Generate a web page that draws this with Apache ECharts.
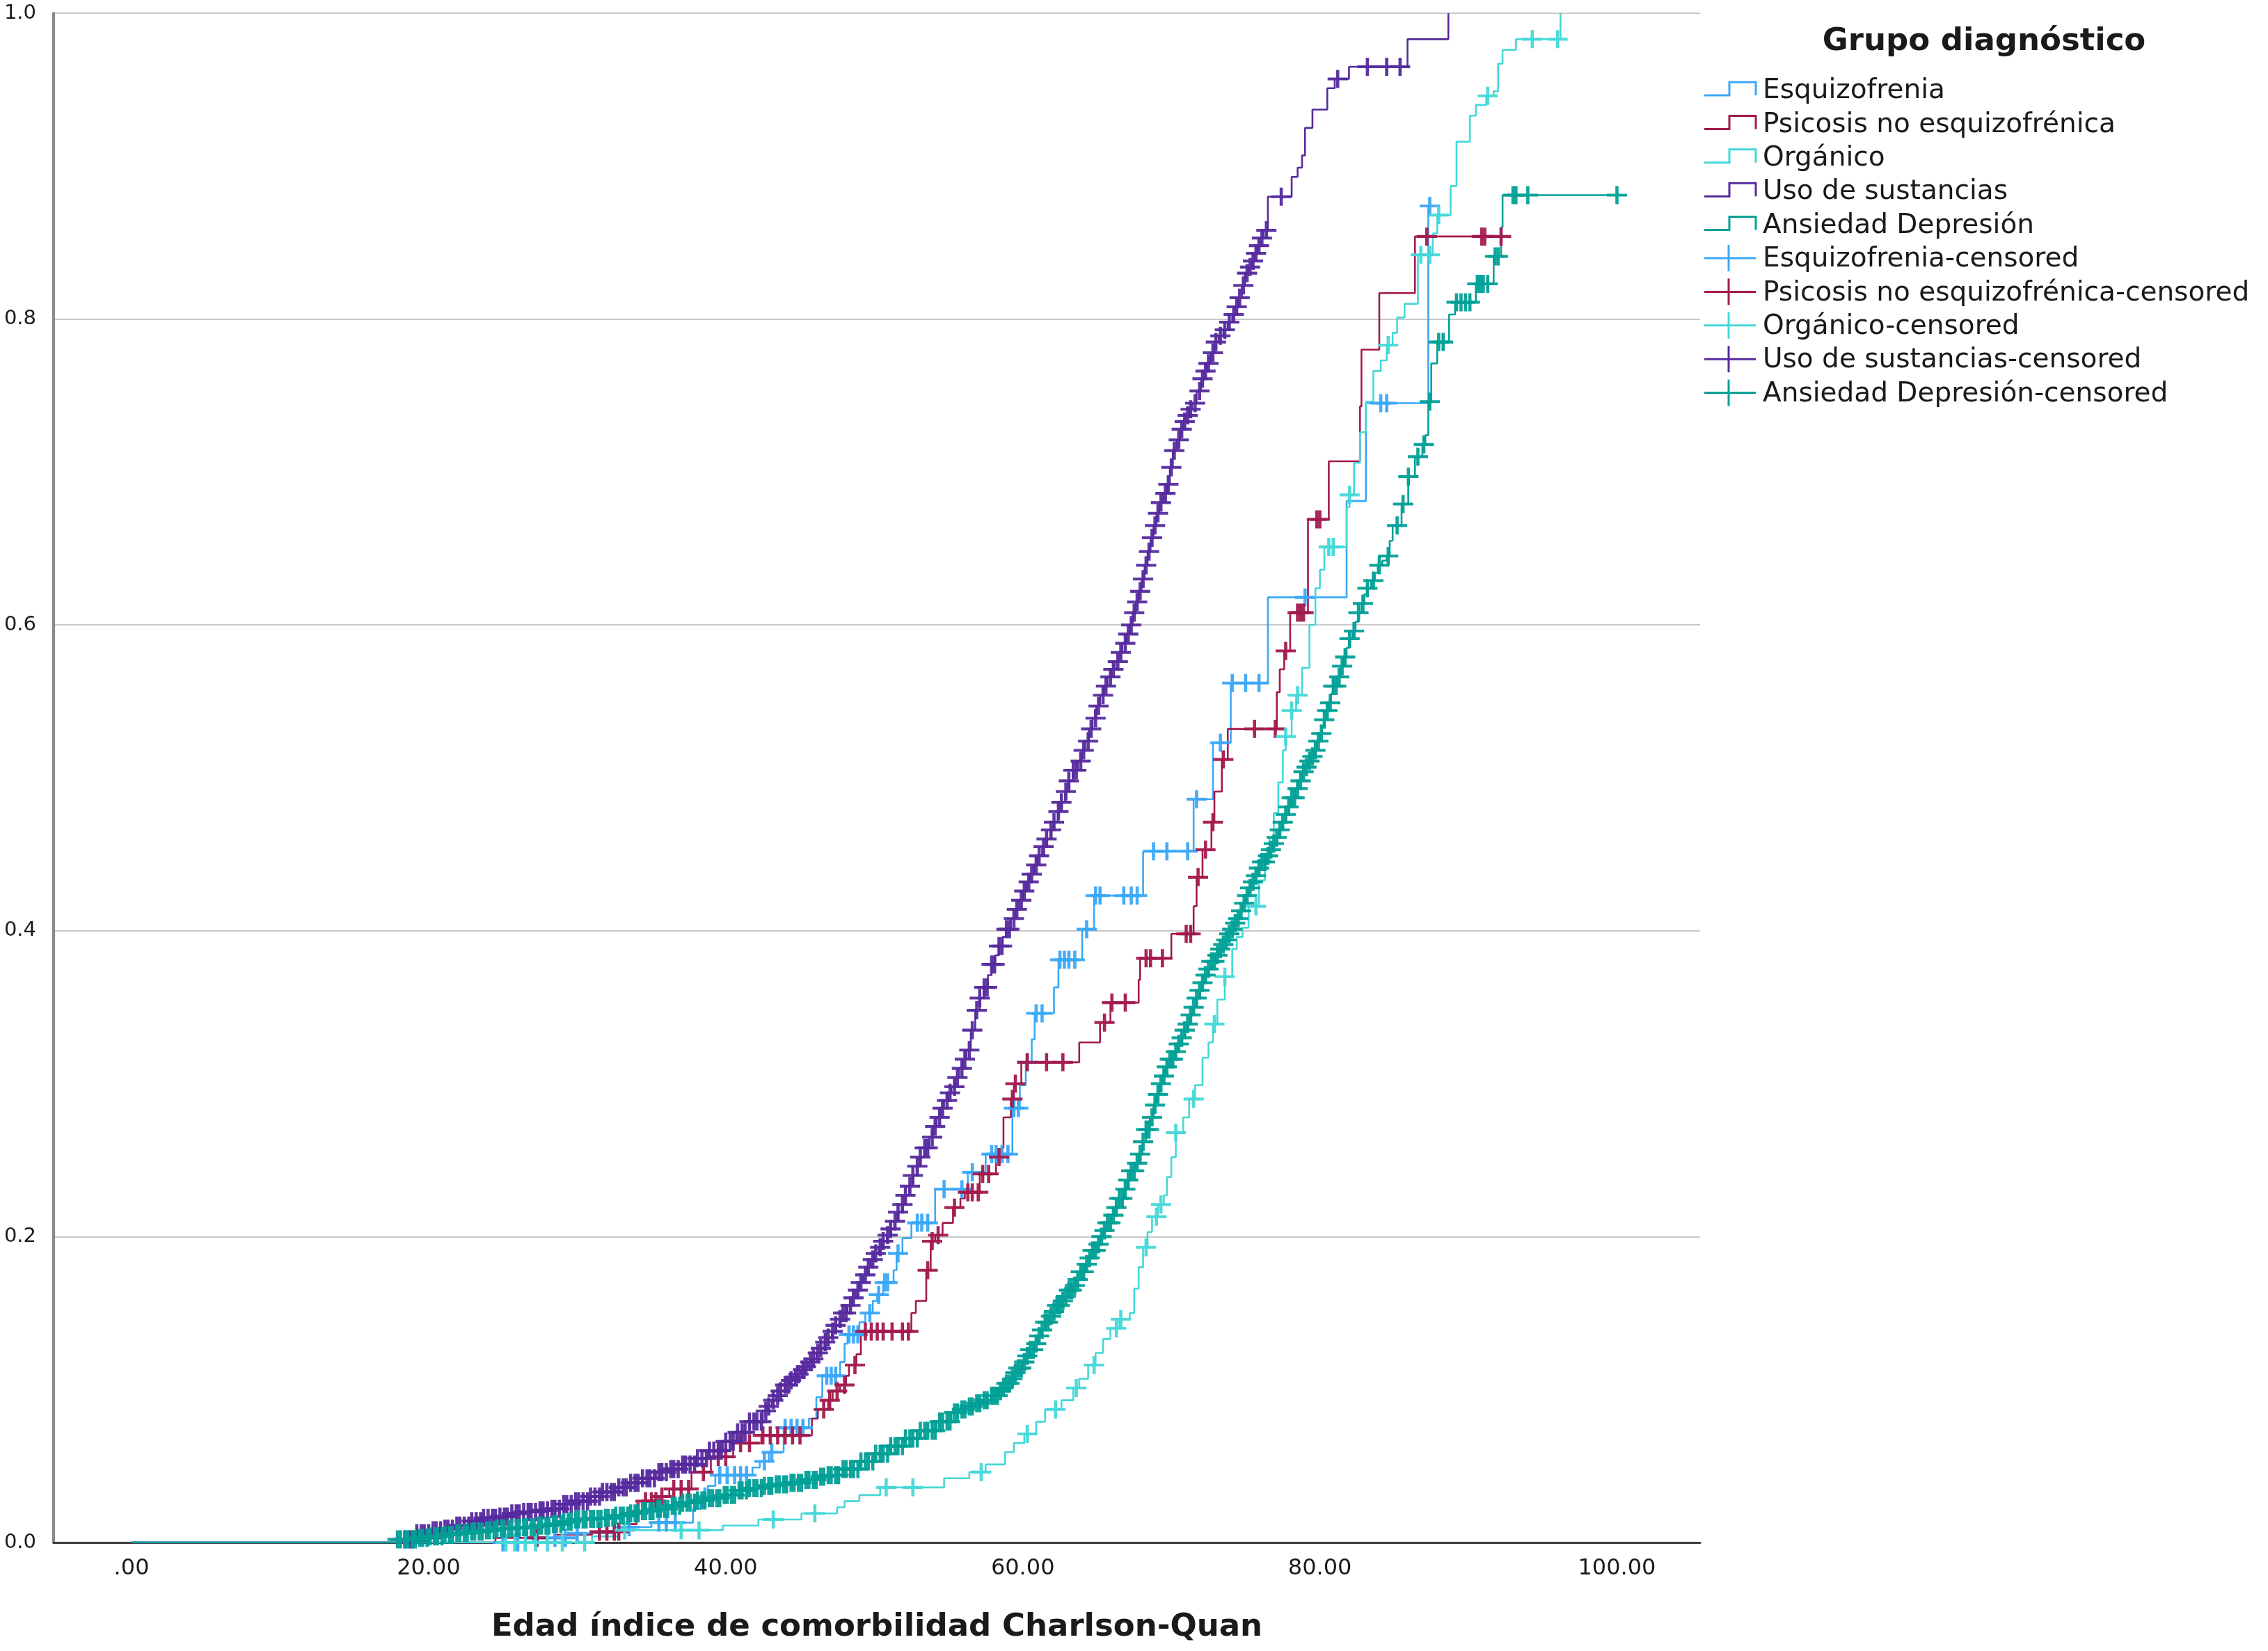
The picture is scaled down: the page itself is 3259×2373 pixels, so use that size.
<!DOCTYPE html>
<html>
<head>
<meta charset="utf-8">
<script src="https://cdn.jsdelivr.net/npm/echarts@6/dist/echarts.min.js"></script>
<style>
html,body{margin:0;padding:0;background:#fff;}
#chart{width:3259px;height:2373px;}
</style>
</head>
<body>
<div id="chart"></div>
<script>
// ---------- DATA ----------
const groupNames = ['Esquizofrenia', 'Psicosis no esquizofrénica', 'Orgánico', 'Uso de sustancias', 'Ansiedad Depresión'];
const censoredNames = ['Esquizofrenia-censored', 'Psicosis no esquizofrénica-censored', 'Orgánico-censored', 'Uso de sustancias-censored', 'Ansiedad Depresión-censored'];
const groupColors = ['#3aa8f8', '#a3194e', '#45d8d8', '#562a9e', '#00a096'];
const legendTitle = 'Grupo diagnóstico';
const xAxisTitle = 'Edad índice de comorbilidad Charlson-Quan';
const xTickValues = [0, 20, 40, 60, 80, 100];

// step points: [age, cumulative value after the step]
const esquizofreniaSteps = [[0,0],[27.0,0.003],[30.0,0.006],[32.5,0.010],[35.0,0.013],[37.8,0.022],[38.3,0.030],[38.8,0.037],[39.3,0.044],[41.8,0.049],[42.3,0.053],[42.9,0.059],[43.9,0.075],[45.6,0.081],[46.1,0.095],[46.5,0.109],[47.7,0.118],[48.0,0.130],[48.2,0.136],[49.0,0.144],[49.4,0.150],[49.9,0.158],[50.2,0.162],[50.6,0.170],[51.3,0.178],[51.5,0.189],[51.9,0.199],[52.5,0.209],[54.1,0.231],[56.3,0.242],[57.5,0.254],[59.3,0.284],[59.8,0.299],[60.2,0.314],[60.6,0.329],[60.8,0.346],[62.1,0.363],[62.4,0.381],[64.0,0.401],[64.8,0.423],[68.1,0.452],[71.5,0.486],[72.8,0.523],[74.0,0.562],[76.5,0.618],[81.8,0.681],[83.1,0.745],[87.3,0.874],[87.4,0.874]];
const esquizofreniaCensored = [25.0,26.0,27.2,28.5,29.2,30.0,33.5,35.5,36.0,36.6,38.6,39.6,40.1,40.6,41.0,41.4,42.6,43.1,44.0,44.4,44.8,45.2,46.8,47.1,47.4,48.3,48.6,48.9,49.7,50.3,50.7,50.9,51.6,52.9,53.2,53.6,54.7,55.9,56.6,57.9,58.2,58.6,59.0,59.4,59.7,60.3,60.9,61.3,62.5,62.8,63.1,63.5,64.3,64.9,65.2,66.8,67.3,67.7,68.8,69.7,71.1,71.7,73.3,74.1,75.0,75.9,79.0,84.1,84.5,87.4];

const psicosisSteps = [[0,0],[24.5,0.003],[28.5,0.005],[31.0,0.007],[33.5,0.012],[34.0,0.020],[34.5,0.027],[35.5,0.030],[36.2,0.035],[37.7,0.046],[39.0,0.056],[40.5,0.065],[42.4,0.070],[45.8,0.081],[46.2,0.087],[46.9,0.093],[47.2,0.099],[47.7,0.103],[48.1,0.109],[48.3,0.116],[48.8,0.123],[49.1,0.138],[52.5,0.150],[52.8,0.158],[53.5,0.178],[53.8,0.197],[54.1,0.201],[54.6,0.209],[55.3,0.219],[55.8,0.225],[56.1,0.229],[57.1,0.241],[58.2,0.252],[58.6,0.258],[58.7,0.278],[59.2,0.290],[59.4,0.300],[59.9,0.314],[63.8,0.327],[65.2,0.340],[65.9,0.353],[67.8,0.368],[67.9,0.382],[70.0,0.398],[71.5,0.416],[71.7,0.435],[72.1,0.453],[72.7,0.471],[72.9,0.491],[73.4,0.512],[73.8,0.532],[77.1,0.556],[77.3,0.571],[77.6,0.583],[78.0,0.608],[79.2,0.669],[80.6,0.707],[82.7,0.743],[82.8,0.780],[84.0,0.817],[86.4,0.854],[92.2,0.854]];
const psicosisCensored = [27.3,31.5,32.0,32.5,32.8,34.1,34.6,35.0,35.3,35.7,36.5,37.0,37.5,38.5,39.5,40.0,41.0,41.6,42.5,43.0,43.5,44.0,44.5,45.0,46.6,47.0,47.5,48.0,48.7,49.4,49.8,50.2,50.6,51.2,51.9,52.3,53.6,53.9,54.3,55.4,56.3,56.6,57.0,57.3,57.7,58.4,59.3,59.5,60.3,61.6,62.7,65.5,66.0,66.9,68.3,68.6,69.4,71.0,71.3,71.8,72.3,72.8,73.5,75.6,77.0,77.7,78.5,78.7,78.9,79.8,80.0,87.2,90.9,91.1,92.2];

const organicoSteps = [[0,0],[31.0,0.004],[32.8,0.008],[39.8,0.011],[42.2,0.015],[45.1,0.019],[47.5,0.023],[48.0,0.027],[49.0,0.031],[50.4,0.036],[54.7,0.042],[56.4,0.046],[57.5,0.051],[58.8,0.059],[59.4,0.065],[60.1,0.071],[60.9,0.079],[61.5,0.087],[62.6,0.093],[63.4,0.101],[63.8,0.107],[64.4,0.116],[64.9,0.124],[65.4,0.133],[65.9,0.140],[66.5,0.146],[67.2,0.150],[67.5,0.166],[67.8,0.180],[68.1,0.193],[68.4,0.203],[68.7,0.213],[69.1,0.221],[69.5,0.227],[69.7,0.239],[70.0,0.252],[70.3,0.268],[70.8,0.278],[71.2,0.290],[71.6,0.299],[72.1,0.317],[72.5,0.327],[72.8,0.339],[73.1,0.355],[73.6,0.370],[74.1,0.388],[74.4,0.396],[74.8,0.402],[75.2,0.416],[75.9,0.433],[76.3,0.445],[76.6,0.461],[76.9,0.477],[77.2,0.497],[77.5,0.518],[77.7,0.527],[78.1,0.544],[78.4,0.554],[78.8,0.572],[79.3,0.600],[79.7,0.624],[80.0,0.636],[80.3,0.651],[81.8,0.677],[82.0,0.685],[82.3,0.706],[82.7,0.726],[83.1,0.746],[83.6,0.766],[84.1,0.773],[84.5,0.783],[84.9,0.791],[85.2,0.801],[85.7,0.810],[86.6,0.842],[87.6,0.856],[87.9,0.868],[88.8,0.887],[89.2,0.916],[90.1,0.933],[90.5,0.940],[91.2,0.946],[91.7,0.949],[92.0,0.967],[92.3,0.976],[93.2,0.983],[96.2,1.0]];
const organicoCensored = [25.2,25.8,26.5,27.2,28.0,29.0,30.5,33.2,37.0,38.2,43.2,46.0,50.8,52.6,57.2,60.3,62.2,63.6,64.8,66.3,66.6,68.3,69.0,69.3,70.3,71.5,72.9,73.6,75.7,77.7,78.1,78.5,80.6,80.9,82.0,84.6,86.8,87.4,88.0,91.3,94.3,96.0];

const sustanciasSteps = [[0,0],[18.2,0.002],[19.2,0.006],[20.1,0.008],[21.0,0.009],[21.9,0.011],[22.8,0.014],[23.7,0.016],[24.6,0.017],[25.5,0.019],[26.4,0.020],[27.3,0.021],[28.2,0.022],[29.0,0.025],[29.9,0.027],[30.8,0.030],[31.7,0.033],[32.6,0.036],[33.5,0.039],[34.4,0.042],[35.3,0.046],[36.2,0.048],[37.1,0.051],[38.0,0.055],[38.9,0.060],[39.8,0.066],[40.7,0.072],[41.6,0.079],[42.5,0.086],[42.8,0.089],[43.1,0.093],[43.4,0.096],[43.7,0.099],[44.0,0.103],[44.3,0.106],[44.55,0.108],[44.8,0.110],[45.05,0.113],[45.3,0.115],[45.55,0.118],[45.8,0.120],[46.1,0.124],[46.4,0.127],[46.65,0.131],[46.9,0.134],[47.15,0.138],[47.4,0.142],[47.65,0.146],[47.9,0.150],[48.2,0.155],[48.5,0.160],[48.75,0.165],[49.0,0.170],[49.25,0.175],[49.5,0.180],[49.75,0.185],[50.0,0.189],[50.3,0.193],[50.6,0.197],[50.85,0.201],[51.1,0.205],[51.35,0.210],[51.6,0.216],[51.85,0.221],[52.1,0.227],[52.35,0.233],[52.6,0.240],[52.85,0.246],[53.1,0.252],[53.4,0.258],[53.7,0.265],[53.95,0.272],[54.2,0.278],[54.45,0.284],[54.7,0.289],[54.95,0.294],[55.2,0.298],[55.45,0.304],[55.7,0.310],[55.95,0.316],[56.2,0.322],[56.5,0.335],[56.8,0.348],[57.1,0.356],[57.4,0.363],[57.65,0.371],[57.9,0.378],[58.15,0.384],[58.4,0.390],[58.65,0.396],[58.9,0.401],[59.2,0.408],[59.5,0.414],[59.75,0.420],[60.0,0.426],[60.25,0.432],[60.5,0.437],[60.75,0.443],[61.0,0.449],[61.3,0.455],[61.6,0.460],[61.85,0.466],[62.1,0.471],[62.35,0.478],[62.6,0.484],[62.85,0.491],[63.1,0.498],[63.4,0.505],[63.7,0.511],[63.95,0.518],[64.2,0.524],[64.45,0.532],[64.7,0.539],[64.95,0.547],[65.2,0.554],[65.45,0.560],[65.7,0.566],[65.95,0.571],[66.2,0.576],[66.45,0.582],[66.7,0.588],[66.95,0.594],[67.2,0.600],[67.4,0.608],[67.6,0.615],[67.8,0.622],[68.0,0.630],[68.2,0.639],[68.4,0.648],[68.6,0.657],[68.8,0.665],[69.0,0.673],[69.2,0.680],[69.45,0.686],[69.7,0.692],[69.9,0.703],[70.1,0.714],[70.35,0.721],[70.6,0.728],[70.8,0.733],[71.0,0.737],[71.2,0.741],[71.4,0.745],[71.7,0.753],[72.0,0.761],[72.2,0.766],[72.4,0.771],[72.65,0.778],[72.9,0.785],[73.2,0.789],[73.5,0.793],[73.8,0.798],[74.1,0.803],[74.3,0.808],[74.5,0.814],[74.75,0.822],[74.95,0.830],[75.2,0.834],[75.4,0.838],[75.6,0.843],[75.8,0.848],[76.0,0.853],[76.2,0.858],[76.5,0.880],[78.1,0.893],[78.5,0.899],[78.8,0.907],[79.0,0.925],[79.5,0.937],[80.5,0.951],[81.0,0.957],[81.96,0.965],[85.9,0.983],[88.65,1.0]];
const sustanciasCensored = [18.4,18.7,18.9,19.2,19.5,19.7,20.0,20.3,20.5,20.8,21.1,21.3,21.6,21.9,22.1,22.4,22.7,22.9,23.2,23.5,23.7,24.0,24.3,24.5,24.8,25.1,25.3,25.6,25.9,26.1,26.4,26.7,26.9,27.2,27.5,27.7,28.0,28.3,28.5,28.8,29.1,29.3,29.6,29.9,30.1,30.4,30.7,30.9,31.2,31.5,31.7,32.0,32.3,32.5,32.8,33.1,33.3,33.6,33.9,34.1,34.4,34.7,34.9,35.2,35.5,35.7,36.0,36.3,36.5,36.8,37.1,37.3,37.6,37.9,38.1,38.4,38.7,38.9,39.2,39.5,39.7,40.0,40.3,40.5,40.8,41.1,41.3,41.6,41.9,42.1,42.4,42.7,42.9,43.2,43.5,43.7,44.0,44.2,44.4,44.7,44.9,45.2,45.4,45.7,45.9,46.2,46.4,46.7,46.9,47.2,47.4,47.7,47.9,48.1,48.4,48.6,48.9,49.1,49.4,49.6,49.9,50.1,50.4,50.6,50.9,51.1,51.4,51.6,51.9,52.1,52.4,52.6,52.9,53.1,53.4,53.6,53.9,54.1,54.4,54.6,54.9,55.1,55.4,55.6,55.9,56.1,56.4,56.6,56.9,57.1,57.4,57.6,57.9,58.1,58.4,58.6,58.9,59.1,59.4,59.6,59.9,60.1,60.4,60.6,60.9,61.1,61.4,61.6,61.9,62.1,62.4,62.6,62.9,63.1,63.4,63.6,63.9,64.1,64.4,64.6,64.9,65.1,65.4,65.6,65.9,66.1,66.4,66.6,66.9,67.1,67.3,67.5,67.7,67.9,68.1,68.3,68.5,68.7,68.9,69.1,69.3,69.6,69.8,70.0,70.2,70.5,70.7,70.9,71.1,71.3,71.6,71.9,72.1,72.3,72.5,72.8,73.0,73.3,73.6,73.9,74.2,74.4,74.6,74.85,75.1,75.3,75.5,75.7,75.9,76.1,76.4,77.4,81.2,83.2,84.5,85.4];

const ansiedadSteps = [[0,0],[17.8,0.002],[19.2,0.003],[20.1,0.004],[21.0,0.005],[21.9,0.006],[22.8,0.007],[23.7,0.008],[24.6,0.009],[25.5,0.0095],[26.4,0.010],[27.3,0.011],[28.2,0.012],[29.0,0.0135],[29.9,0.015],[30.8,0.0155],[31.7,0.016],[32.6,0.0175],[33.5,0.019],[34.4,0.0205],[35.3,0.022],[36.2,0.024],[37.1,0.026],[38.0,0.0275],[38.9,0.029],[39.8,0.031],[40.7,0.034],[41.6,0.0355],[42.5,0.037],[43.4,0.038],[44.3,0.039],[45.3,0.041],[46.2,0.043],[46.9,0.044],[47.9,0.048],[49.0,0.053],[50.0,0.058],[51.1,0.063],[52.1,0.068],[53.1,0.073],[54.2,0.079],[55.2,0.085],[55.7,0.087],[56.2,0.089],[56.75,0.091],[57.3,0.093],[57.85,0.096],[58.4,0.099],[58.65,0.101],[58.9,0.104],[59.15,0.107],[59.4,0.111],[59.7,0.114],[60.0,0.118],[60.25,0.122],[60.5,0.126],[60.75,0.130],[61.0,0.135],[61.25,0.139],[61.5,0.144],[61.75,0.148],[62.0,0.151],[62.3,0.155],[62.6,0.158],[62.85,0.161],[63.1,0.165],[63.35,0.168],[63.6,0.172],[63.9,0.177],[64.2,0.182],[64.45,0.186],[64.7,0.191],[64.95,0.195],[65.2,0.200],[65.45,0.204],[65.7,0.209],[65.95,0.214],[66.2,0.219],[66.5,0.225],[66.8,0.231],[67.05,0.237],[67.3,0.243],[67.55,0.248],[67.8,0.254],[68.05,0.262],[68.3,0.270],[68.55,0.278],[68.8,0.286],[69.0,0.293],[69.2,0.300],[69.4,0.305],[69.6,0.311],[69.9,0.316],[70.2,0.321],[70.45,0.326],[70.7,0.330],[70.9,0.335],[71.1,0.339],[71.3,0.345],[71.5,0.350],[71.7,0.356],[71.9,0.361],[72.1,0.366],[72.3,0.371],[72.5,0.375],[72.7,0.380],[72.95,0.384],[73.2,0.388],[73.4,0.391],[73.6,0.394],[73.8,0.398],[74.0,0.401],[74.2,0.405],[74.4,0.408],[74.6,0.413],[74.8,0.418],[75.0,0.423],[75.2,0.428],[75.4,0.432],[75.65,0.436],[75.9,0.441],[76.1,0.445],[76.35,0.449],[76.6,0.453],[76.85,0.457],[77.1,0.461],[77.3,0.466],[77.5,0.471],[77.7,0.476],[77.9,0.481],[78.1,0.487],[78.35,0.493],[78.55,0.498],[78.8,0.504],[79.0,0.507],[79.2,0.511],[79.4,0.514],[79.6,0.518],[79.8,0.524],[80.0,0.529],[80.15,0.533],[80.3,0.538],[80.45,0.544],[80.6,0.549],[80.75,0.555],[80.9,0.560],[81.15,0.566],[81.4,0.573],[81.6,0.579],[81.8,0.585],[82.0,0.591],[82.2,0.596],[82.4,0.602],[82.6,0.608],[82.8,0.614],[83.0,0.620],[83.2,0.624],[83.45,0.629],[83.7,0.634],[83.9,0.639],[84.2,0.642],[84.5,0.645],[84.7,0.655],[84.9,0.665],[85.5,0.679],[85.95,0.697],[86.4,0.710],[86.9,0.718],[87.1,0.724],[87.3,0.746],[87.5,0.771],[87.9,0.785],[88.7,0.803],[89.1,0.811],[90.5,0.823],[91.7,0.841],[92.2,0.860],[92.3,0.881],[100.0,0.881]];
const ansiedadCensored = [17.9,18.1,18.4,18.6,18.9,19.1,19.4,19.6,19.9,20.1,20.4,20.6,20.9,21.1,21.4,21.6,21.9,22.1,22.4,22.6,22.9,23.1,23.4,23.6,23.9,24.1,24.4,24.6,24.9,25.1,25.4,25.6,25.9,26.1,26.4,26.6,26.9,27.1,27.4,27.6,27.9,28.1,28.4,28.6,28.9,29.1,29.4,29.6,29.9,30.1,30.4,30.6,30.9,31.1,31.4,31.6,31.9,32.1,32.4,32.6,32.9,33.1,33.4,33.6,33.9,34.1,34.4,34.6,34.9,35.1,35.4,35.6,35.9,36.1,36.4,36.6,36.9,37.1,37.4,37.6,37.9,38.1,38.4,38.6,38.9,39.1,39.4,39.6,39.9,40.1,40.4,40.6,40.9,41.1,41.4,41.6,41.9,42.1,42.4,42.6,42.9,43.1,43.4,43.6,43.9,44.1,44.4,44.6,44.9,45.1,45.4,45.6,45.9,46.1,46.4,46.6,46.9,47.1,47.4,47.6,47.9,48.1,48.4,48.6,48.9,49.1,49.4,49.6,49.9,50.1,50.4,50.6,50.9,51.1,51.4,51.6,51.9,52.1,52.4,52.6,52.9,53.1,53.4,53.6,53.9,54.1,54.4,54.6,54.9,55.1,55.4,55.6,55.9,56.1,56.4,56.6,56.9,57.1,57.4,57.6,57.9,58.1,58.3,58.5,58.7,58.9,59.1,59.3,59.5,59.7,59.9,60.1,60.3,60.5,60.7,60.9,61.1,61.3,61.5,61.7,61.9,62.1,62.3,62.5,62.7,62.9,63.1,63.3,63.5,63.7,63.9,64.1,64.3,64.5,64.7,64.9,65.1,65.3,65.5,65.7,65.9,66.1,66.3,66.5,66.7,66.9,67.1,67.3,67.5,67.7,67.9,68.1,68.3,68.5,68.7,68.9,69.1,69.3,69.5,69.7,69.9,70.1,70.3,70.5,70.7,70.9,71.1,71.3,71.5,71.7,71.9,72.1,72.3,72.5,72.7,72.9,73.1,73.3,73.5,73.7,73.9,74.1,74.3,74.5,74.7,74.9,75.1,75.3,75.5,75.7,75.9,76.1,76.3,76.5,76.7,76.9,77.1,77.3,77.5,77.7,77.9,78.1,78.3,78.5,78.7,78.9,79.1,79.3,79.5,79.7,79.9,80.1,80.3,80.5,80.7,80.9,81.1,81.3,81.5,81.7,82.0,82.3,82.6,82.9,83.2,83.6,84.0,84.6,85.2,85.6,85.96,86.6,87.0,87.4,88.0,88.3,89.2,89.5,89.8,90.1,90.6,90.8,91.0,91.3,91.8,92.0,93.0,93.2,94.0,100.0];

// ---------- BUILD ----------
const allSteps = [esquizofreniaSteps, psicosisSteps, organicoSteps, sustanciasSteps, ansiedadSteps];
const allCensored = [esquizofreniaCensored, psicosisCensored, organicoCensored, sustanciasCensored, ansiedadCensored];

function valueAt(steps, t) {
  let v = 0;
  for (const s of steps) { if (s[0] <= t) v = s[1]; else break; }
  return v;
}

const crossPath = 'path://M0,10.1 L24,10.1 L24,13.9 L0,13.9 Z M10.1,0 L13.9,0 L13.9,24 L10.1,24 Z';

const series = [];
groupNames.forEach((name, i) => {
  series.push({
    name: name, type: 'line', step: 'end', data: allSteps[i],
    showSymbol: false, symbol: 'none', silent: true,
    lineStyle: { color: groupColors[i], width: 2.6 },
    itemStyle: { color: groupColors[i] }, z: 2
  });
});
groupNames.forEach((name, i) => {
  series.push({
    name: censoredNames[i], type: 'scatter',
    data: allCensored[i].map(t => [t, valueAt(allSteps[i], t)]),
    symbol: crossPath, symbolSize: [29, 26], symbolKeepAspect: false, silent: true,
    itemStyle: { color: groupColors[i], opacity: 0.95 }, z: 3
  });
});

// legend drawn as graphic
const graphic = [];
const legendX = 2449, legendTextX = 2533, rowStart = 131, rowGap = 48.4;
graphic.push({
  type: 'text', x: 2851, y: 60,
  style: { text: legendTitle, font: 'bold 45px "DejaVu Sans"', fill: '#1a1a1a', textAlign: 'center', textVerticalAlign: 'middle' }
});
const legendLabels = groupNames.concat(censoredNames);
legendLabels.forEach((label, k) => {
  const y = rowStart + k * rowGap;
  const c = groupColors[k % 5];
  if (k < 5) {
    graphic.push({
      type: 'polyline',
      shape: { points: [[legendX, y + 6], [legendX + 36, y + 6], [legendX + 36, y - 13], [legendX + 74, y - 13], [legendX + 74, y + 6]] },
      style: { stroke: c, lineWidth: 3, fill: null }
    });
  } else {
    graphic.push({ type: 'line', shape: { x1: legendX, y1: y - 2, x2: legendX + 74, y2: y - 2 }, style: { stroke: c, lineWidth: 3 } });
    graphic.push({ type: 'line', shape: { x1: legendX + 35, y1: y - 21, x2: legendX + 35, y2: y + 17 }, style: { stroke: c, lineWidth: 3 } });
  }
  graphic.push({
    type: 'text', x: legendTextX, y: y,
    style: { text: label, font: '39px "DejaVu Sans"', fill: '#1a1a1a', textAlign: 'left', textVerticalAlign: 'middle' }
  });
});

const chart = echarts.init(document.getElementById('chart'), null, { renderer: 'canvas' });
chart.setOption({
  backgroundColor: '#ffffff',
  animation: false,
  grid: { left: 77, right: 816, top: 19, bottom: 156, containLabel: false },
  xAxis: {
    type: 'value', min: -5.25, max: 105.6,
    name: xAxisTitle, nameLocation: 'middle', nameGap: 100,
    nameTextStyle: { fontFamily: 'DejaVu Sans', fontWeight: 'bold', fontSize: 45, color: '#1a1a1a' },
    axisLine: { show: true, onZero: false, lineStyle: { color: '#3a3a3a', width: 3 } },
    axisTick: { show: false },
    splitLine: { show: false },
    axisLabel: {
      customValues: xTickValues, margin: 22, fontFamily: 'DejaVu Sans', fontSize: 32, color: '#1a1a1a',
      formatter: v => (v === 0 ? '.00' : Number(v).toFixed(2))
    }
  },
  yAxis: {
    type: 'value', min: 0, max: 1, interval: 0.2,
    axisLine: { show: true, onZero: false, lineStyle: { color: '#8a8a8a', width: 4 } },
    axisTick: { show: false },
    splitLine: { show: true, lineStyle: { color: '#c8c8c8', width: 2 } },
    axisLabel: { margin: 25, fontFamily: 'DejaVu Sans', fontSize: 29, color: '#1a1a1a', formatter: v => Number(v).toFixed(1) }
  },
  series: series,
  graphic: graphic
});
</script>
</body>
</html>
